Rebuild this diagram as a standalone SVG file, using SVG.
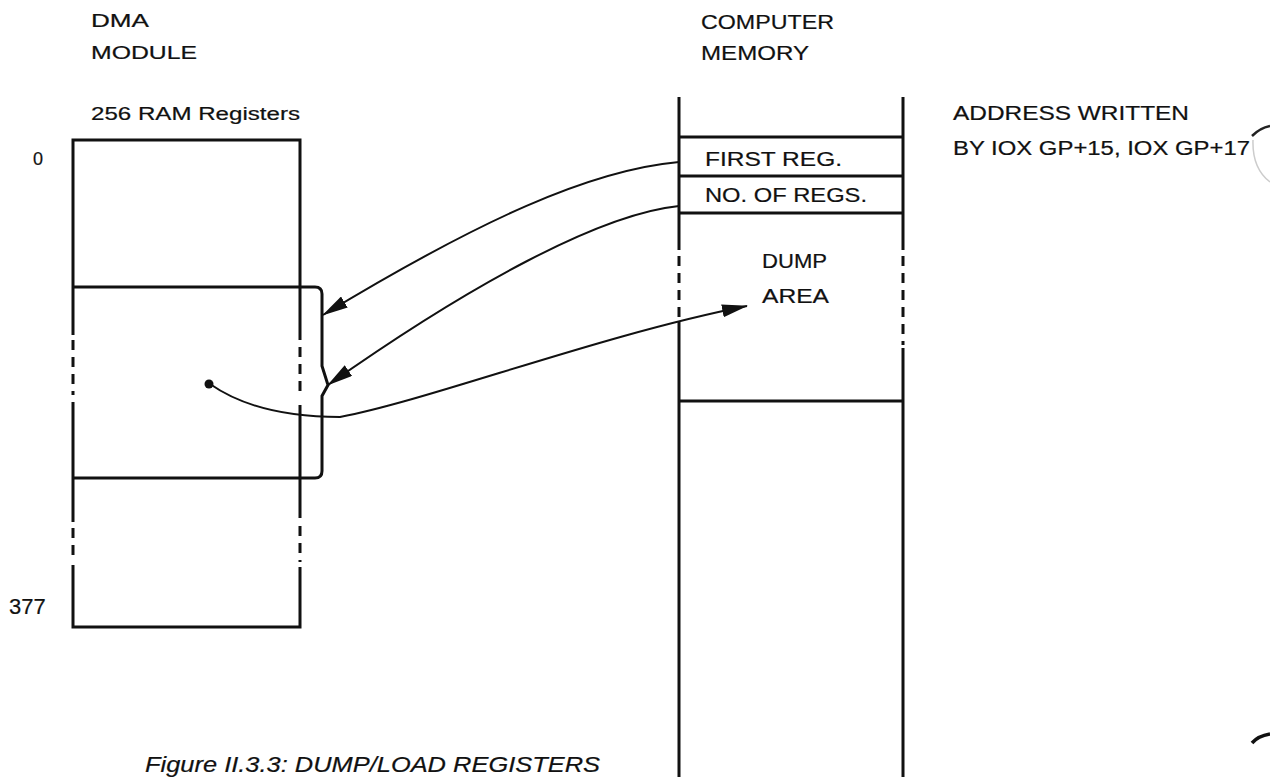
<svg xmlns="http://www.w3.org/2000/svg" width="1270" height="777" viewBox="0 0 1270 777">
<defs>
<style>
.t{font-family:"Liberation Sans",Arial,sans-serif;fill:#111;stroke:#111;stroke-width:0.2;}
.ln{stroke:#111;stroke-width:3;fill:none;stroke-linecap:butt;}
.ds{stroke:#111;stroke-width:3;fill:none;stroke-dasharray:10,7;}
.cv{stroke:#111;stroke-width:2;fill:none;}
</style>
<marker id="ah" viewBox="0 0 26 13" refX="25" refY="6.5" markerWidth="26" markerHeight="13" markerUnits="userSpaceOnUse" orient="auto">
<path d="M0,0 L26,6.5 L0,13 Z" fill="#111"/>
</marker>
</defs>
<rect width="1270" height="777" fill="#fff"/>

<g id="dma-module">
<text class="t" x="91" y="27" font-size="17.5" textLength="58" lengthAdjust="spacingAndGlyphs">DMA</text>
<text class="t" x="91" y="59" font-size="17.5" textLength="106" lengthAdjust="spacingAndGlyphs">MODULE</text>
<text class="t" x="91" y="120" font-size="18" textLength="209" lengthAdjust="spacingAndGlyphs">256 RAM Registers</text>
<text class="t" x="33" y="165" font-size="18">0</text>
<text class="t" x="9" y="614" font-size="22">377</text>
<path class="ln" d="M71.5,140 H301.5 M73,140 V335 M73,402 V522 M73,565 V627 M300,140 V340 M300,405 V518 M300,567 V627 M71.5,627 H301.5 M73,287 H300 M73,478 H300"/>
<path class="ds" d="M73,340 V395 M73,528 V560 M300,347 V398 M300,526 V562"/>
</g>

<g id="bracket">
<path class="ln" d="M300,287 H315 Q322,287 322,294 V366 L328,385 L322,396 V471 Q322,478 315,478 H300"/>
</g>

<g id="computer-memory">
<text class="t" x="701" y="29" font-size="21" textLength="133" lengthAdjust="spacingAndGlyphs">COMPUTER</text>
<text class="t" x="701" y="60" font-size="21" textLength="108" lengthAdjust="spacingAndGlyphs">MEMORY</text>
<path class="ln" d="M679,97 V250 M679,322 V777 M903,97 V250 M903,348 V777 M679,137 H903 M679,176 H903 M679,213 H903 M679,401 H903"/>
<path class="ds" d="M679,256 V318 M903,256 V345"/>
</g>

<g id="first-reg">
<text class="t" x="705" y="166" font-size="21" textLength="137" lengthAdjust="spacingAndGlyphs">FIRST REG.</text>
</g>
<g id="no-of-regs">
<text class="t" x="705" y="202" font-size="21" textLength="162" lengthAdjust="spacingAndGlyphs">NO. OF REGS.</text>
</g>
<g id="dump-area">
<text class="t" x="762" y="268" font-size="21" textLength="65" lengthAdjust="spacingAndGlyphs">DUMP</text>
<text class="t" x="762" y="303" font-size="21" textLength="67" lengthAdjust="spacingAndGlyphs">AREA</text>
</g>

<g id="address-note">
<text class="t" x="953" y="120" font-size="19.5" textLength="236" lengthAdjust="spacingAndGlyphs">ADDRESS WRITTEN</text>
<text class="t" x="953" y="155" font-size="19.5" textLength="297" lengthAdjust="spacingAndGlyphs">BY IOX GP+15, IOX GP+17</text>
</g>

<g id="connectors">
<path class="cv" d="M679,162 C590,170 480,220 323,315" marker-end="url(#ah)"/>
<path class="cv" d="M679,206 C600,214 470,285 328,385" marker-end="url(#ah)"/>
<path class="cv" d="M210,384 C240,405 280,417 340,417 C430,400 600,335 747,306" marker-end="url(#ah)"/>
<circle cx="209" cy="384" r="4.5" fill="#111"/>
</g>

<g id="caption">
<text class="t" x="145" y="772" font-size="22.5" font-style="italic" textLength="455" lengthAdjust="spacingAndGlyphs">Figure II.3.3: DUMP/LOAD  REGISTERS</text>
</g>

<g id="edge-marks">
<path d="M1252,136 Q1260,128 1270,126" stroke="#222" stroke-width="2.5" fill="none"/>
<path d="M1253,140 Q1252,168 1270,182" stroke="#ccc" stroke-width="1.5" fill="none"/>
<path d="M1252,743 Q1258,736 1270,734" stroke="#111" stroke-width="3.5" fill="none"/>
</g>
</svg>
